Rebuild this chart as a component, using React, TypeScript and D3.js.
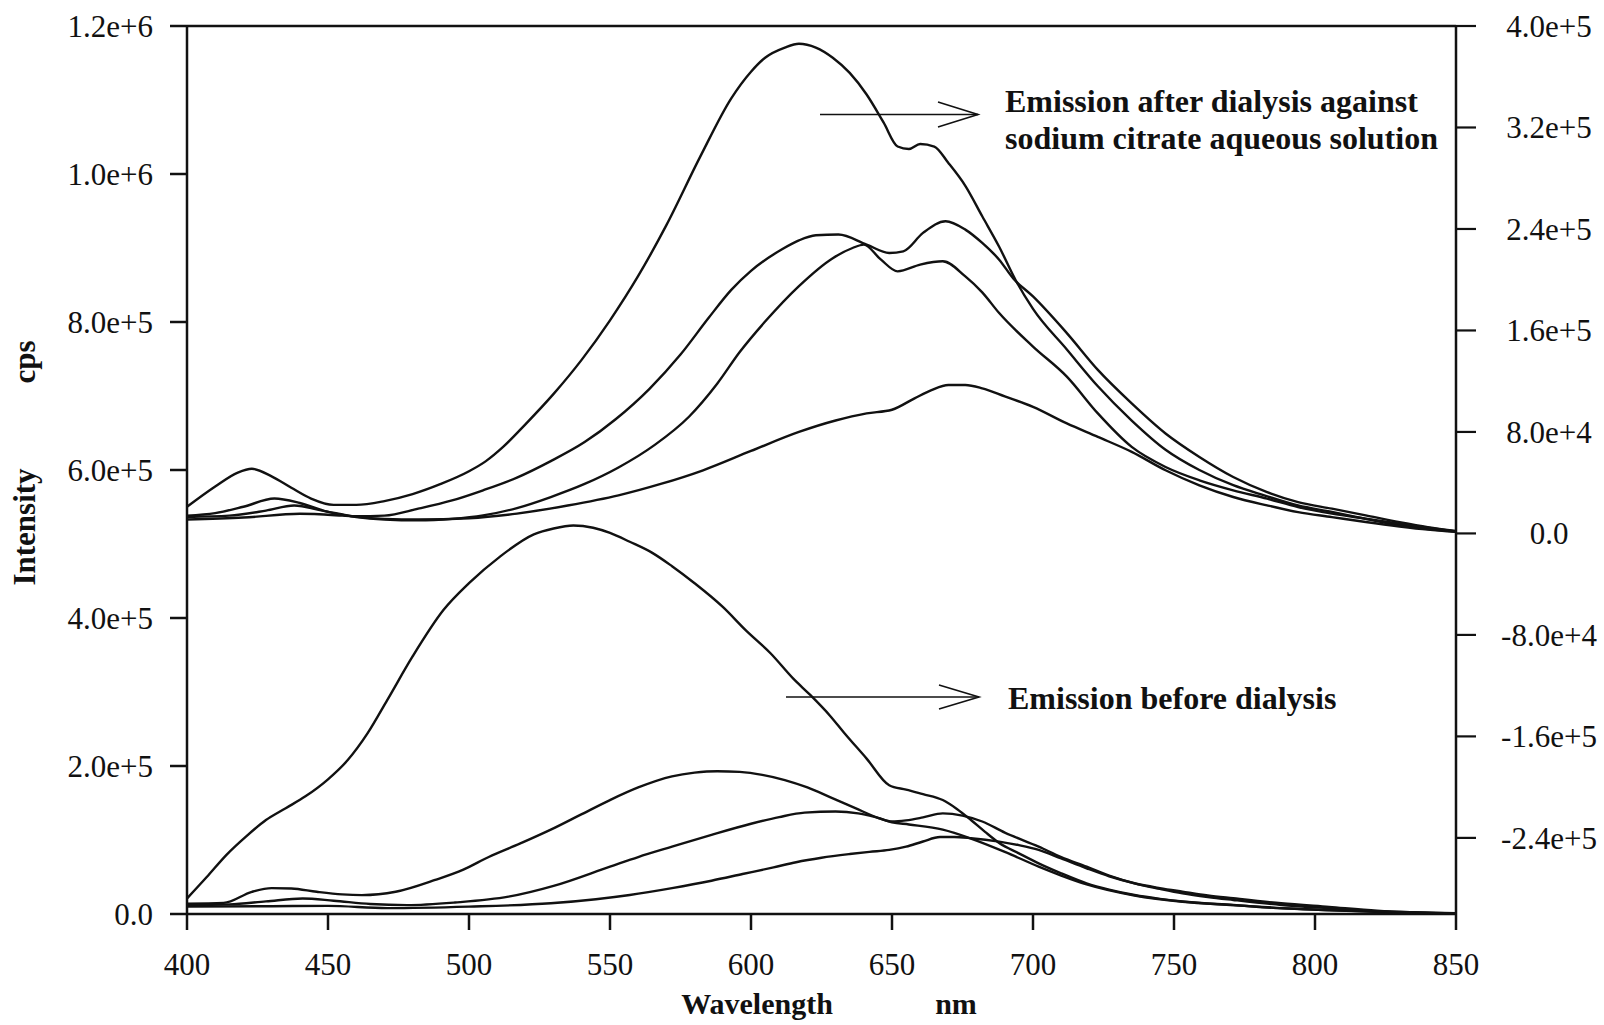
import React from "react";
import * as d3 from "d3";

// ---- Data (wavelength nm, intensity cps) ----
// Emission after dialysis (plotted on right axis)
const after1: [number, number][] = [[400,21000],[410,37000],[418,48000],[423,51000],[430,45000],[437,36000],[444,27500],[452,22500],[460,22500],[470,25500],[480,31000],[490,39000],[500,49000],[506,57000],[512,68000],[520,86000],[530,110000],[540,137000],[550,168000],[560,203000],[570,243000],[582,297000],[593,343000],[600,364000],[605,375000],[612,383000],[617,386000],[623,383000],[629,375000],[635,363000],[641,346000],[647,324000],[652,305000],[656,303000],[660,307000],[665,305000],[670,292000],[676,274000],[682,250000],[688,226000],[694,199000],[700,177000],[712,145000],[723,116000],[735,89000],[747,66000],[759,50000],[771,38000],[782,30000],[794,22000],[806,17000],[818,11500],[830,6500],[840,3500],[850,1500]];
const after2: [number, number][] = [[400,14000],[410,16000],[420,21000],[431,27500],[440,24000],[450,17000],[460,13500],[470,14000],[482,19500],[494,26000],[505,34000],[517,44000],[529,57000],[541,72000],[552,90000],[564,114000],[575,141000],[585,170000],[593,192000],[600,207000],[611,224000],[617,231000],[623,235000],[631,235600],[641,227700],[649,221100],[654,222400],[661,236900],[669,246100],[676,239500],[682,229000],[688,215800],[693,201000],[700,186800],[712,157900],[723,128900],[735,102500],[747,78800],[759,60300],[771,44500],[783,32600],[794,24700],[806,19500],[818,14200],[830,8900],[840,5000],[850,2000]];
const after3: [number, number][] = [[400,13000],[415,14000],[428,18000],[438,22000],[448,18000],[460,13000],[470,11000],[482,10300],[494,11500],[505,14200],[517,20000],[529,28700],[541,39000],[553,52000],[566,70000],[578,92000],[588,118000],[596,143000],[605,167000],[617,195000],[629,217000],[636,225000],[640,227700],[646,216000],[652,206600],[660,211900],[668,214500],[676,202600],[682,190000],[688,173700],[700,147300],[712,123600],[723,94600],[735,68200],[747,52400],[759,41900],[771,34000],[783,27400],[794,20800],[806,15600],[818,11600],[830,7700],[840,4500],[850,1500]];
const after4: [number, number][] = [[400,11000],[420,12500],[440,15500],[455,14000],[470,11500],[482,11000],[500,12000],[517,15600],[535,22000],[553,30000],[568,39000],[583,49800],[600,65000],[617,80000],[630,89000],[641,94600],[650,97500],[658,106500],[664,113000],[670,117000],[676,117000],[682,114400],[690,108000],[700,99800],[712,86700],[723,76100],[735,64300],[747,49800],[759,37900],[771,28700],[783,22100],[794,16800],[806,12900],[818,9000],[830,5500],[840,3000],[850,1200]];

// Emission before dialysis (plotted on left axis)
const before1: [number, number][] = [[400,21000],[407,50000],[414,80000],[421,105000],[428,127000],[435,143000],[442,159000],[450,182000],[457,208000],[464,244000],[471,289000],[480,348000],[491,411000],[500,447000],[511,483000],[523,513000],[530,521000],[537,525000],[544,522000],[550,515000],[557,503000],[565,488000],[572,470000],[580,447000],[590,415000],[598,384000],[607,352000],[615,318000],[621,296000],[628,268000],[633,245000],[641,210000],[649,174000],[655,168000],[661,162000],[668,154000],[673,142000],[678,127000],[683,111000],[688,96000],[695,82000],[702,68500],[710,55000],[719,41500],[727,33000],[736,25700],[745,20500],[754,16600],[771,12200],[788,7700],[805,5400],[822,3100],[850,800]];
const before2: [number, number][] = [[400,14000],[413,15000],[423,30000],[430,35000],[437,34500],[446,30000],[455,26500],[462,25500],[474,30000],[488,46000],[498,60000],[507,77000],[518,95000],[529,114000],[540,135000],[550,154000],[560,171000],[572,186000],[580,191000],[588,193000],[596,192000],[604,188000],[612,181000],[620,171000],[628,158000],[637,143000],[645,130000],[650,124000],[656,121000],[668,114000],[678,102000],[690,84000],[702,64000],[710,52000],[719,40000],[736,25000],[753,16500],[771,12000],[788,8000],[805,5000],[822,3000],[850,500]];
const before3: [number, number][] = [[400,12000],[415,13000],[428,17000],[441,21000],[452,18000],[465,13500],[478,12000],[495,15500],[514,23400],[530,38000],[550,64000],[560,77000],[572,91000],[586,107000],[600,122000],[610,131000],[619,137000],[630,138500],[638,136000],[645,130000],[650,125000],[655,126500],[661,130500],[668,136000],[675,133000],[682,125000],[690,110000],[702,91000],[710,77000],[719,64000],[727,52000],[736,41500],[745,34000],[753,28000],[762,23000],[771,19000],[788,12200],[805,7700],[822,3500],[850,600]];
const before4: [number, number][] = [[400,10000],[430,10500],[450,11000],[471,8000],[500,10000],[529,14500],[545,20000],[557,25700],[572,35000],[586,45000],[597,54000],[608,63000],[616,70000],[625,76000],[635,81000],[642,84000],[649,86600],[655,91000],[661,98000],[667,104000],[672,104000],[678,102400],[688,97800],[695,93000],[702,86600],[710,75000],[719,61800],[727,51000],[736,41500],[745,35000],[753,30200],[762,25000],[771,21200],[788,14500],[805,9500],[822,4500],[850,1000]];

// Tick values
const xTicks = [400, 450, 500, 550, 600, 650, 700, 750, 800, 850];
const leftTicks = [0, 200000, 400000, 600000, 800000, 1000000, 1200000];
const rightTicks = [-240000, -160000, -80000, 0, 80000, 160000, 240000, 320000, 400000];

const afterSeries = [after1, after2, after3, after4];
const beforeSeries = [before1, before2, before3, before4];

const FONT = "'Liberation Serif', 'Times New Roman', Times, serif";
const INK = "#111";

const x = d3.scaleLinear().domain([400, 850]).range([187, 1456]);
const yLeft = d3.scaleLinear().domain([0, 1200000]).range([914, 26]);
const yRight = d3.scaleLinear().domain([-300000, 400000]).range([914, 26]);

const fmt = (v: number) =>
  v === 0 ? "0.0" : d3.format(".1e")(v).replace("\u2212", "-");

export default function App() {
  const mk = (ys: d3.ScaleLinear<number, number>) =>
    d3
      .line<[number, number]>()
      .x((d) => x(d[0]))
      .y((d) => ys(d[1]))
      .curve(d3.curveMonotoneX);
  const lineR = mk(yRight);
  const lineL = mk(yLeft);
  const x0 = x(400), x1 = x(850);
  const yTop = yLeft(1200000), yBot = yLeft(0);

  return (
    <svg
      width={1604}
      height={1025}
      style={{ position: "absolute", left: 0, top: 0, background: "#fff" }}
      fontFamily={FONT}
    >
      <rect x={0} y={0} width={1604} height={1025} fill="#fff" />
      {/* frame */}
      <g stroke={INK} strokeWidth={2.5} fill="none">
        <line x1={x0} y1={yTop} x2={x1} y2={yTop} />
        <line x1={x0} y1={yTop} x2={x0} y2={yBot} />
        <line x1={x1} y1={yTop} x2={x1} y2={yBot} />
        <line x1={x0} y1={yBot} x2={x1} y2={yBot} />
      </g>
      {/* left axis */}
      <g>
        {leftTicks.map((t) => (
          <g key={"l" + t}>
            <line x1={x0 - 17} x2={x0} y1={yLeft(t)} y2={yLeft(t)} stroke={INK} strokeWidth={2.5} />
            <text x={153} y={yLeft(t) + 11} textAnchor="end" fontSize={31} fill={INK}>
              {fmt(t)}
            </text>
          </g>
        ))}
      </g>
      {/* right axis */}
      <g>
        {rightTicks.map((t) => (
          <g key={"r" + t}>
            <line x1={x1} x2={x1 + 20} y1={yRight(t)} y2={yRight(t)} stroke={INK} strokeWidth={2.2} />
            <text x={1549} y={yRight(t) + 11} textAnchor="middle" fontSize={31} fill={INK}>
              {fmt(t)}
            </text>
          </g>
        ))}
      </g>
      {/* bottom axis */}
      <g>
        {xTicks.map((t) => (
          <g key={"b" + t}>
            <line x1={x(t)} x2={x(t)} y1={yBot} y2={yBot + 16} stroke={INK} strokeWidth={2.5} />
            <text x={x(t)} y={975} textAnchor="middle" fontSize={31} fill={INK}>
              {t}
            </text>
          </g>
        ))}
      </g>
      {/* axis titles */}
      <text x={757} y={1014} textAnchor="middle" fontSize={30} fontWeight="bold" fill={INK}>
        Wavelength
      </text>
      <text x={956} y={1014} textAnchor="middle" fontSize={30} fontWeight="bold" fill={INK}>
        nm
      </text>
      <text
        transform="translate(35,527) rotate(-90)"
        textAnchor="middle"
        fontSize={31}
        fontWeight="bold"
        fill={INK}
      >
        Intensity
      </text>
      <text
        transform="translate(35,362) rotate(-90)"
        textAnchor="middle"
        fontSize={31}
        fontWeight="bold"
        fill={INK}
      >
        cps
      </text>
      {/* curves */}
      <g fill="none" stroke={INK} strokeWidth={2.4} strokeLinejoin="round">
        {afterSeries.map((s, i) => (
          <path key={"a" + i} d={lineR(s) || ""} />
        ))}
        {beforeSeries.map((s, i) => (
          <path key={"bf" + i} d={lineL(s) || ""} />
        ))}
      </g>
      {/* annotations */}
      <g stroke={INK} strokeWidth={1.6} fill="none">
        <line x1={820} y1={114.5} x2={978} y2={114.5} />
        <polyline points="938,102 978,114.5 938,127" />
        <line x1={786} y1={697} x2={979} y2={697} />
        <polyline points="939,685 979,697 939,709" />
      </g>
      <g fontSize={32} fontWeight="bold" fill={INK}>
        <text x={1005} y={112}>Emission after dialysis against</text>
        <text x={1005} y={149}>sodium citrate aqueous solution</text>
        <text x={1008} y={709}>Emission before dialysis</text>
      </g>
    </svg>
  );
}
